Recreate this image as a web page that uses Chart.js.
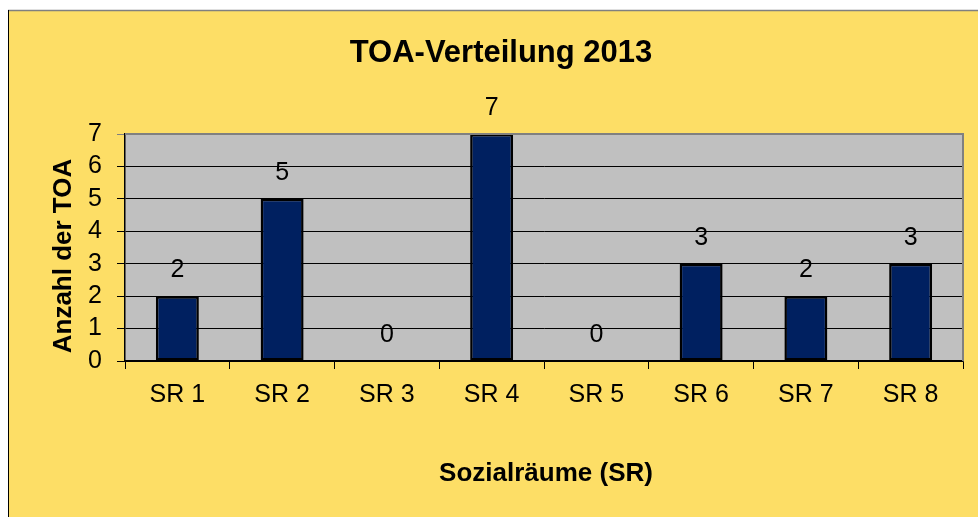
<!DOCTYPE html>
<html>
<head>
<meta charset="utf-8">
<script src="https://cdn.jsdelivr.net/npm/chart.js@4/dist/chart.umd.min.js"></script>
<style>
    html, body { margin: 0; padding: 0; background: #fff; }
    #wrap { width: 978px; height: 517px; }
</style>
</head>
<body>
<div id="wrap"><canvas id="chart" width="978" height="517"></canvas></div>
<script>
const categories = ["SR 1", "SR 2", "SR 3", "SR 4", "SR 5", "SR 6", "SR 7", "SR 8"];
const counts = [2, 5, 0, 7, 0, 3, 2, 3];
const yTicks = [0, 1, 2, 3, 4, 5, 6, 7];
const chartTitle = "TOA-Verteilung 2013";
const xTitle = "Sozialräume (SR)";
const yTitle = "Anzahl der TOA";

const FONT = "'Liberation Sans', Arial, sans-serif";

// background, frame, titles and value labels
const decor = {
    id: "decor",
    beforeDraw(chart) {
        const { ctx, chartArea: a, width, height } = chart;
        ctx.save();
        ctx.fillStyle = "#fff";
        ctx.fillRect(0, 0, width, height);
        ctx.fillStyle = "#FDDE66";
        ctx.fillRect(8, 10, width - 8, height - 10);
        ctx.strokeStyle = "#808080";
        ctx.lineWidth = 1.5;
        ctx.beginPath();
        ctx.moveTo(8, 10.5);
        ctx.lineTo(width, 10.5);
        ctx.stroke();
        ctx.strokeStyle = "#000";
        ctx.lineWidth = 1;
        ctx.beginPath();
        ctx.moveTo(8.5, 10);
        ctx.lineTo(8.5, height);
        ctx.stroke();
        ctx.fillStyle = "#C0C0C0";
        ctx.fillRect(a.left, a.top, a.right - a.left, a.bottom - a.top);
        ctx.restore();
    },
    afterDraw(chart) {
        const { ctx, chartArea: a } = chart;
        ctx.save();
        ctx.strokeStyle = "#808080";
        ctx.lineWidth = 2;
        ctx.beginPath();
        ctx.moveTo(a.left, a.top);
        ctx.lineTo(a.right, a.top);
        ctx.lineTo(a.right, a.bottom);
        ctx.stroke();

        ctx.fillStyle = "#000";
        ctx.textAlign = "center";
        ctx.textBaseline = "middle";
        ctx.font = "bold 31px " + FONT;
        ctx.fillText(chartTitle, 501, 53);
        ctx.font = "bold 26px " + FONT;
        ctx.fillText(xTitle, 546, 474);
        ctx.translate(64, 256);
        ctx.rotate(-Math.PI / 2);
        ctx.fillText(yTitle, 0, 0);
        ctx.restore();
    },
    afterDatasetsDraw(chart) {
        const { ctx } = chart;
        const meta = chart.getDatasetMeta(0);
        ctx.save();
        ctx.fillStyle = "#000";
        ctx.font = "25px " + FONT;
        ctx.textAlign = "center";
        ctx.textBaseline = "middle";
        meta.data.forEach((bar, i) => {
            ctx.fillText(String(counts[i]), bar.x, bar.y - 26);
        });
        ctx.restore();
    }
};

new Chart(document.getElementById("chart"), {
    type: "bar",
    data: {
        labels: categories,
        datasets: [{
            data: counts,
            backgroundColor: "#002060",
            borderColor: "#000",
            borderWidth: 2.5,
            borderSkipped: false,
            categoryPercentage: 1,
            barPercentage: 0.41
        }]
    },
    options: {
        responsive: false,
        animation: false,
        layout: {
            padding: { top: 134, right: 15, bottom: 0, left: 0 }
        },
        plugins: {
            legend: { display: false },
            title: { display: false },
            tooltip: { enabled: false }
        },
        scales: {
            x: {
                afterFit: s => { s.height = 156; },
                grid: {
                    drawOnChartArea: false,
                    offset: true,
                    tickLength: 8,
                    color: "#000"
                },
                border: { color: "#000", width: 1.5 },
                ticks: {
                    color: "#000",
                    padding: 11,
                    autoSkip: false,
                    maxRotation: 0,
                    font: { family: FONT, size: 25 }
                }
            },
            y: {
                min: 0,
                max: 7,
                afterFit: s => { s.width = 125; },
                afterBuildTicks: s => { s.ticks = yTicks.map(v => ({ value: v })); },
                grid: {
                    color: c => (c.tick && c.tick.value === 7 ? "#808080" : "#000"),
                    tickLength: 8
                },
                border: { color: "#000", width: 1.5 },
                ticks: {
                    color: "#000",
                    padding: 15,
                    autoSkip: false,
                    font: { family: FONT, size: 25 }
                }
            }
        }
    },
    plugins: [decor]
});
</script>
</body>
</html>
